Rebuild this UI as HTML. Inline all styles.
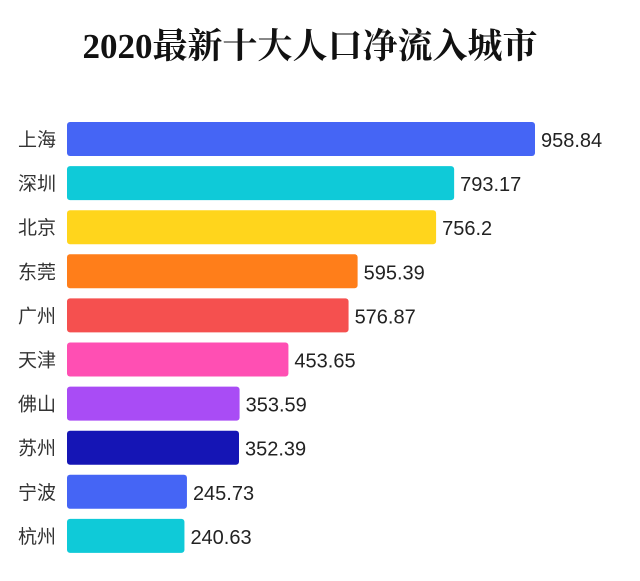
<!DOCTYPE html>
<html><head><meta charset="utf-8"><style>
body{margin:0;background:#fff;width:640px;height:581px;overflow:hidden}
svg{display:block}
</style></head><body>
<svg width="640" height="581">
<text x="310" y="58" text-anchor="middle" font-family="'Liberation Serif','Noto Serif CJK SC',serif" font-weight="bold" font-size="35" fill="#111">2020最新十大人口净流入城市</text>
<g id="bars"></g>
</svg>
<script>
const cities=["上海","深圳","北京","东莞","广州","天津","佛山","苏州","宁波","杭州"];
const values=[958.84,793.17,756.2,595.39,576.87,453.65,353.59,352.39,245.73,240.63];
const labels=["958.84","793.17","756.2","595.39","576.87","453.65","353.59","352.39","245.73","240.63"];
const colors=["#4565f5","#0fcad8","#ffd51c","#ff7e1a","#f5504f","#ff4fb3","#a94cf5","#1515b5","#4565f5","#0fcad8"];
const x0=67,scale=(535-67)/958.84;
const xs=v=>x0+v*scale;
const ys=i=>122+i*44.1;
const g=document.getElementById('bars');
const ns="http://www.w3.org/2000/svg";
cities.forEach((c,i)=>{
  const r=document.createElementNS(ns,'rect');
  r.setAttribute('x',x0);r.setAttribute('y',ys(i));
  r.setAttribute('width',xs(values[i])-x0);r.setAttribute('height',34);
  r.setAttribute('rx',3);r.setAttribute('fill',colors[i]);
  
  
  g.appendChild(r);
  const t=document.createElementNS(ns,'text');
  t.setAttribute('x',18);t.setAttribute('y',ys(i)+24);
  t.setAttribute('font-family',"'Liberation Sans','Noto Sans CJK SC',sans-serif");
  t.setAttribute('font-size',19);t.setAttribute('fill','#333');
  t.textContent=c;
  
  
  g.appendChild(t);
  const v=document.createElementNS(ns,'text');
  v.setAttribute('x',xs(values[i])+6);v.setAttribute('y',ys(i)+25);
  v.setAttribute('font-family',"'Liberation Sans',sans-serif");
  v.setAttribute('font-size',20);v.setAttribute('fill','#222');
  v.textContent=labels[i];
  
  
  g.appendChild(v);
});
</script>
</body></html>
